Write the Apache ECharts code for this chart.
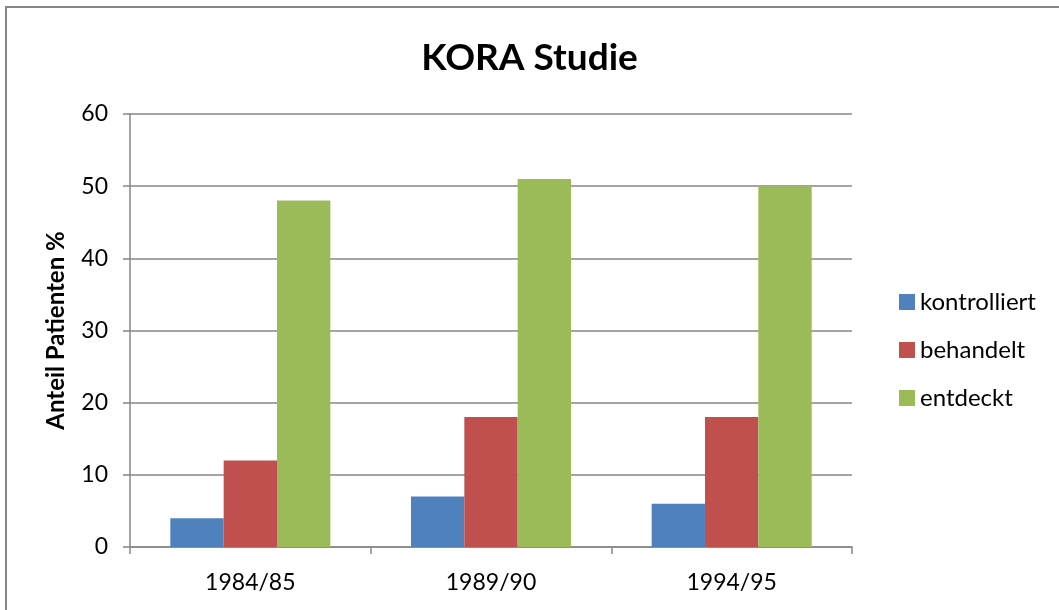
<!DOCTYPE html>
<html><head><meta charset="utf-8">
<script src="https://cdn.jsdelivr.net/npm/echarts@6/dist/echarts.min.js"></script>
<style>html,body{margin:0;padding:0;background:#fff}#c{width:1059px;height:610px}</style>
</head><body><div id="c"></div>
<script>
const categories = ['1984/85', '1989/90', '1994/95'];
const kontrolliert = [4, 7, 6];
const behandelt = [12, 18, 18];
const entdeckt = [48, 51, 50];
const seriesNames = ['kontrolliert', 'behandelt', 'entdeckt'];
const colors = ['#4F81BD', '#C0504D', '#9BBB59'];
const FONT = 'Lato';
const chart = echarts.init(document.getElementById('c'), null, {renderer: 'canvas'});
const vals = [kontrolliert, behandelt, entdeckt];
chart.setOption({
  animation: false,
  color: colors,
  textStyle: {fontFamily: FONT},
  graphic: [{type: 'rect', shape: {x: 6, y: 7, width: 1200, height: 800}, style: {fill: 'none', stroke: '#868686', lineWidth: 2}, silent: true}],
  title: {text: 'KORA Studie', left: 'center', top: 35, textStyle: {fontFamily: FONT, fontSize: 37, fontWeight: 'bold', color: '#000'}},
  legend: {orient: 'vertical', left: 894, top: 285, itemWidth: 16, itemHeight: 16, itemGap: 24,
    textStyle: {fontFamily: FONT, fontSize: 24, color: '#000'}, data: seriesNames, icon: 'rect'},
  grid: {left: 130, right: 207, top: 114, bottom: 63, containLabel: false},
  xAxis: {type: 'category', data: categories,
    axisLine: {lineStyle: {color: '#868686', width: 1.5}},
    axisTick: {show: true, length: 7, lineStyle: {color: '#868686', width: 1.5}},
    axisLabel: {fontFamily: FONT, fontSize: 23, color: '#000', margin: 24}},
  yAxis: {type: 'value', min: 0, max: 60, interval: 10,
    name: 'Anteil Patienten %', nameLocation: 'middle', nameGap: 62, nameRotate: 90,
    nameTextStyle: {fontFamily: FONT, fontSize: 24, fontWeight: 'bold', color: '#000'},
    axisLine: {show: true, lineStyle: {color: '#868686', width: 1.5}},
    axisTick: {show: true, length: 7, lineStyle: {color: '#868686', width: 1.5}},
    axisLabel: {fontFamily: FONT, fontSize: 23, color: '#000', margin: 22},
    splitLine: {lineStyle: {color: '#868686', width: 1.5}}},
  series: seriesNames.map((n, i) => ({name: n, type: 'bar', data: vals[i], barGap: '0%', barCategoryGap: '33.5%'}))
});
</script></body></html>
